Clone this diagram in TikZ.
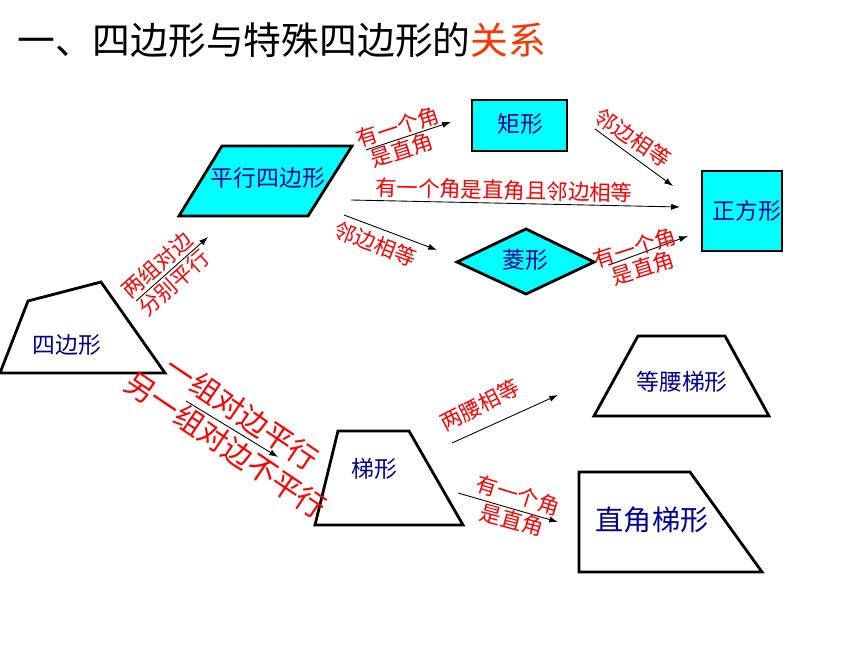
\documentclass[tikz,border=0pt]{standalone}
\usepackage{fontspec}
\setmainfont{Noto Sans CJK SC}
\usetikzlibrary{arrows.meta}
\definecolor{namblue}{RGB}{0,0,153}
\definecolor{boxcyan}{RGB}{0,255,255}
\definecolor{titlered}{RGB}{255,51,0}

\begin{document}
\begin{tikzpicture}[x=0.02cm, y=-0.02cm, every node/.style={inner sep=0pt},
  figline/.style={draw=black, line width=1.6pt},
  figname/.style={text=namblue, font=\fontsize{13}{13}\selectfont},
  cond/.style={text=red, font=\fontsize{12.2}{12.2}\selectfont},
  bigcond/.style={text=red, font=\fontsize{16.7}{17}\selectfont},
  link/.style={-{Latex[length=5pt,width=3.5pt]}, line width=0.5pt}]
\useasboundingbox (0,0) rectangle (860,645);

\node[anchor=west, font=\fontsize{21.5}{22}\selectfont] (title) at (17,40) {一、四边形与特殊四边形的\textcolor{titlered}{关系}};

\coordinate (Q1) at (28,301);
\coordinate (Q2) at (101,282);
\coordinate (Q3) at (165,373);
\coordinate (Q4) at (0,373);
\coordinate (P1) at (222,146);
\coordinate (P2) at (352,146);
\coordinate (P3) at (308,216);
\coordinate (P4) at (179,216);
\coordinate (R1) at (472,100);
\coordinate (R2) at (567,151);
\coordinate (S1) at (702,171);
\coordinate (S2) at (782,251);
\coordinate (L1) at (457,262);
\coordinate (L2) at (526,229);
\coordinate (L3) at (594,262);
\coordinate (L4) at (526,294);
\coordinate (T1) at (338,431);
\coordinate (T2) at (409,431);
\coordinate (T3) at (463,525);
\coordinate (T4) at (315,525);
\coordinate (I1) at (638,336);
\coordinate (I2) at (725,336);
\coordinate (I3) at (769,416);
\coordinate (I4) at (594,416);
\coordinate (Z1) at (579,472);
\coordinate (Z2) at (690,472);
\coordinate (Z3) at (762,572);
\coordinate (Z4) at (579,572);

\draw[figline] (Q1) -- (Q2) -- (Q3) -- (Q4) -- cycle; % 四边形
\draw[figline, fill=boxcyan] (P1) -- (P2) -- (P3) -- (P4) -- cycle; % 平行四边形
\draw[figline, fill=boxcyan] (R1) rectangle (R2);
\draw[figline, fill=boxcyan] (S1) rectangle (S2);
\draw[figline, fill=boxcyan] (L1) -- (L2) -- (L3) -- (L4) -- cycle; % 菱形
\draw[figline] (T1) -- (T2) -- (T3) -- (T4) -- cycle; % 梯形
\draw[figline] (I1) -- (I2) -- (I3) -- (I4) -- cycle;
\draw[figline] (Z1) -- (Z2) -- (Z3) -- (Z4) -- cycle;
%
\coordinate (a1) at (136,301); \coordinate (b1) at (208,237);
\coordinate (a2) at (366,150); \coordinate (b2) at (451,122);
\coordinate (a3) at (351,200); \coordinate (b3) at (680,207);
\coordinate (a4) at (344,215); \coordinate (b4) at (437,250);
\coordinate (a5) at (595,129); \coordinate (b5) at (673,186);
\coordinate (a6) at (609,265); \coordinate (b6) at (688,236);
\coordinate (a7) at (186,401); \coordinate (b7) at (278,457);
\coordinate (a8) at (452,443); \coordinate (b8) at (558,395);
\coordinate (a9) at (458,493); \coordinate (b9) at (558,522);

\draw[link] (a1) -- (b1); %1
\draw[link] (a2) -- (b2);
\draw[link] (a3) -- (b3);
\draw[link] (a4) -- (b4);
\draw[link] (a5) -- (b5); %5
\draw[link] (a6) -- (b6);
\draw[link] (a7) -- (b7);
\draw[link] (a8) -- (b8);
\draw[link] (a9) -- (b9);
%
\node[figname] (quad) at (67,345) {四边形};
\node[figname] (para) at (268,178) {平行四边形};
\node[figname] (rect) at (520,124) {矩形};
\node[figname] (squa) at (747,211) {正方形};
\node[figname] (rhom) at (525,260) {菱形};
\node[figname] (trap) at (374,469) {梯形};
\node[figname] (isos) at (682,382) {等腰梯形};
\node[figname, font=\fontsize{16}{16}\selectfont] (rtra) at (652,520) {直角梯形};
%
\node[cond, rotate=42] (c1a) at (157,265) {两组对边};
\node[cond, rotate=42] (c1b) at (174,283) {分别平行};
\node[cond, rotate=18] (c2a) at (398,127) {有一个角};
\node[cond, rotate=18] (c2b) at (402,150) {是直角};
\node[cond, rotate=-1.3] (c3) at (504,190) {有一个角是直角且邻边相等};
\node[cond, rotate=-21] (c4) at (375,244) {邻边相等};
\node[cond, rotate=-34] (c5) at (633,138) {邻边相等};
\node[cond, rotate=18] (c6a) at (635,248) {有一个角};
\node[cond, rotate=17] (c6b) at (643,268) {是直角};
\node[bigcond, rotate=-34] (c7a) at (242,413) {一组对边平行};
\node[bigcond, rotate=-34] (c7b) at (226,445) {另一组对边不平行};
\node[cond, rotate=27] (c8) at (480,405) {两腰相等};
\node[cond, rotate=-17] (c9a) at (518,495) {有一个角};
\node[cond, rotate=-15] (c9b) at (512,520) {是直角};
\end{tikzpicture}
\end{document}
